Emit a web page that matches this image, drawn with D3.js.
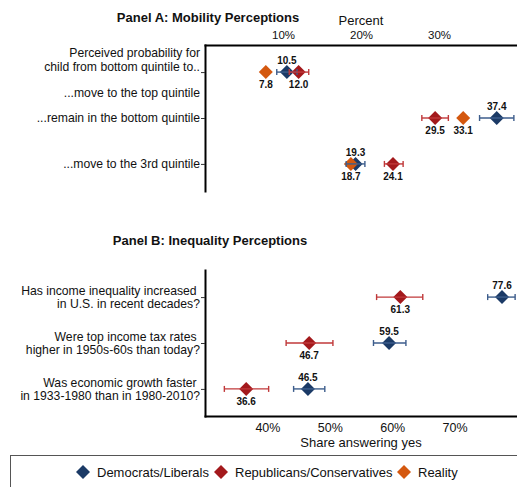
<!DOCTYPE html>
<html>
<head>
  <meta charset="UTF-8">
  <title>Mobility and inequality perceptions</title>
  <style>
    body { margin: 0; background: #fff; }
    text { font-family: "Liberation Sans", Arial, sans-serif; fill: #111; }
    .title { font-size: 13px; font-weight: bold; }
    .rowlab { font-size: 12.2px; }
    .val { font-size: 10px; font-weight: bold; }
    .axis .domain { stroke: #000; stroke-width: 2px; }
    .axis line { stroke: #333; }
  </style>
</head>
<body>
  <svg width="517" height="487" id="chart"></svg>
  <script src="https://d3js.org/d3.v7.min.js"></script>
  <script>
    // Panel A: mobility perceptions (percent)
    var rowsA = ["...move to the top quintile", "...remain in the bottom quintile", "...move to the 3rd quintile"];
    var headerA = ["Perceived probability for", "child from bottom quintile to.."];
    var demA = [10.5, 37.4, 19.3];
    var demALo = [9.2, 35.2, 18.1];
    var demAHi = [11.8, 39.6, 20.5];
    var repA = [12.0, 29.5, 24.1];
    var repALo = [10.8, 27.8, 23.0];
    var repAHi = [13.3, 31.2, 25.4];
    var realA = [7.8, 33.1, 18.7];
    var ticksA = [10, 20, 30];

    // Panel B: inequality perceptions (share answering yes)
    var rowsB = [
      ["Has income inequality increased ", "in U.S. in recent decades?"],
      ["Were top income tax rates ", "higher in 1950s-60s than today?"],
      ["Was economic growth faster ", "in 1933-1980 than in 1980-2010?"]
    ];
    var demB = [77.6, 59.5, 46.5];
    var demBLo = [75.3, 57.0, 44.2];
    var demBHi = [79.7, 62.2, 49.2];
    var repB = [61.3, 46.7, 36.6];
    var repBLo = [57.5, 43.0, 33.1];
    var repBHi = [64.9, 50.5, 40.2];
    var ticksB = [40, 50, 60, 70];

    var seriesNames = ["Democrats/Liberals", "Republicans/Conservatives", "Reality"];
    var colors = { dem: "#1b3a66", rep: "#a3191c", real: "#d4580f" };
    var ciColors = { dem: "#3d5d8c", rep: "#c0393a" };

    var svg = d3.select("#chart");
    var plotLeft = 205, plotRight = 517;

    // square diamond symbol
    var diamond = {
      draw: function (ctx, size) {
        var r = Math.sqrt(size) / 2;
        ctx.moveTo(0, -r); ctx.lineTo(r, 0); ctx.lineTo(0, r); ctx.lineTo(-r, 0); ctx.closePath();
      }
    };
    var sym = d3.symbol().type(diamond).size(196);

    function drawPanel(cfg) {
      var x = d3.scaleLinear().domain(cfg.xDomain).range([plotLeft, plotRight]);
      var y = d3.scaleLinear().domain([-0.59, 2.59]).range([cfg.top, cfg.top + 146]);
      var g = svg.append("g");
      var idx = [0, 1, 2];

      // x axis
      var xAxis = (cfg.xTop ? d3.axisTop(x) : d3.axisBottom(x))
        .tickValues(cfg.ticks).tickSize(0).tickPadding(cfg.xTop ? 6 : 7)
        .tickFormat(function (d) { return d + "%"; });
      var xg = g.append("g").attr("class", "axis")
        .attr("transform", "translate(0," + (cfg.xTop ? cfg.top : cfg.top + 146) + ")")
        .call(xAxis);
      xg.selectAll("text").style("font-size", cfg.tickFont + "px")
        .attr("font-family", "Liberation Sans, Arial, sans-serif").attr("fill", "#111");

      // y axis
      var yg = g.append("g").attr("class", "axis")
        .attr("transform", "translate(" + plotLeft + ",0)")
        .call(d3.axisLeft(y).tickValues(idx).tickSizeInner(4).tickSizeOuter(0).tickFormat(""));
      yg.select(".domain").attr("stroke-linecap", "square");
      xg.select(".domain").attr("stroke-linecap", "square");

      // row labels
      cfg.labels(g, y);

      // markers
      cfg.series.forEach(function (s) {
        g.selectAll(null).data(idx).enter().append("path")
          .attr("d", sym)
          .attr("transform", function (i) { return "translate(" + x(s.v[i]) + "," + y(i) + ")"; })
          .attr("fill", colors[s.key]);
      });
      // confidence intervals
      cfg.series.filter(function (s) { return s.lo; }).forEach(function (s) {
        var ci = g.selectAll(null).data(idx).enter().append("g")
          .attr("stroke", ciColors[s.key]).attr("stroke-width", 1.4);
        ci.append("line")
          .attr("x1", function (i) { return x(s.lo[i]); })
          .attr("x2", function (i) { return x(s.hi[i]); })
          .attr("y1", function (i) { return y(i); })
          .attr("y2", function (i) { return y(i); });
        [s.lo, s.hi].forEach(function (arr) {
          ci.append("line")
            .attr("x1", function (i) { return x(arr[i]); })
            .attr("x2", function (i) { return x(arr[i]); })
            .attr("y1", function (i) { return y(i) - 3; })
            .attr("y2", function (i) { return y(i) + 3; });
        });
      });
      // value labels
      cfg.series.forEach(function (s) {
        g.selectAll(null).data(idx).enter().append("text")
          .attr("class", "val")
          .attr("text-anchor", "middle")
          .attr("x", function (i) { return x(s.v[i]); })
          .attr("y", function (i) { return y(i) + (s.above ? -8 : 16); })
          .text(function (i) { return s.v[i].toFixed(1); });
      });
      return x;
    }

    // titles
    svg.append("text").attr("class", "title").attr("x", 208).attr("y", 22)
      .attr("text-anchor", "middle").text("Panel A: Mobility Perceptions");
    svg.append("text").attr("x", 361).attr("y", 25).attr("text-anchor", "middle")
      .style("font-size", "13px").text("Percent");
    svg.append("text").attr("class", "title").attr("x", 210).attr("y", 245)
      .attr("text-anchor", "middle").text("Panel B: Inequality Perceptions");
    svg.append("text").attr("x", 361).attr("y", 447).attr("text-anchor", "middle")
      .style("font-size", "13px").text("Share answering yes");

    drawPanel({
      top: 45, xTop: true, xDomain: [0, 40], ticks: ticksA, tickFont: 11.5,
      series: [
        { key: "dem", v: demA, lo: demALo, hi: demAHi, above: true },
        { key: "rep", v: repA, lo: repALo, hi: repAHi },
        { key: "real", v: realA }
      ],
      labels: function (g, y) {
        g.selectAll(null).data(headerA).enter().append("text")
          .attr("class", "rowlab").attr("text-anchor", "end").attr("x", 200)
          .attr("y", function (d, j) { return y(0) - 15 + j * 14; })
          .text(function (d) { return d; });
        g.selectAll(null).data(rowsA).enter().append("text")
          .attr("class", "rowlab").attr("text-anchor", "end").attr("x", 200)
          .attr("y", function (d, i) { return y(i) + 4 + (i === 0 ? 21 : 0); })
          .text(function (d) { return d; });
      }
    });

    drawPanel({
      top: 270, xTop: false, xDomain: [30, 80], ticks: ticksB, tickFont: 12.5,
      series: [
        { key: "dem", v: demB, lo: demBLo, hi: demBHi, above: true },
        { key: "rep", v: repB, lo: repBLo, hi: repBHi }
      ],
      labels: function (g, y) {
        rowsB.forEach(function (lines, i) {
          g.selectAll(null).data(lines).enter().append("text")
            .attr("class", "rowlab").attr("text-anchor", "end").attr("x", 200)
            .style("white-space", "pre").attr("xml:space", "preserve")
            .attr("y", function (d, j) { return y(i) - 2 + j * 13; })
            .text(function (d) { return d; });
        });
      }
    });

    // legend
    var lg = svg.append("g");
    lg.append("rect").attr("x", 10.5).attr("y", 455.5).attr("width", 520).attr("height", 40)
      .attr("fill", "none").attr("stroke", "#555");
    var legendKeys = ["dem", "rep", "real"];
    var legendX = [83, 221, 404];
    legendKeys.forEach(function (k, i) {
      lg.append("path").attr("d", sym)
        .attr("transform", "translate(" + legendX[i] + ",472)")
        .attr("fill", colors[k]);
      lg.append("text").attr("x", legendX[i] + 14).attr("y", 477)
        .style("font-size", "13px").text(seriesNames[i]);
    });
  </script>
</body>
</html>
